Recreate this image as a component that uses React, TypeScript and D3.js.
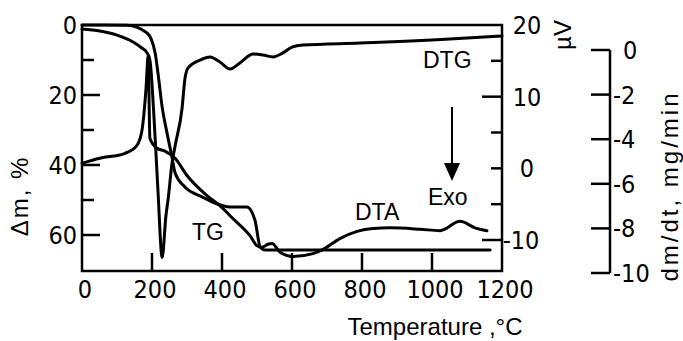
import * as d3 from 'd3';
import { useEffect, useRef } from 'react';

// axis ticks
const tempTicks = [0, 200, 400, 600, 800, 1000, 1200];
const massTicks = [0, 20, 40, 60];
const massMinorTicks = [10, 30, 50];
const uvTicks = [20, 10, 0, -10];
const uvLongTicks = [10, -10];
const uvShortTicks = [15, 5, 0, -5];
const rateTicks = [0, -2, -4, -6, -8, -10];

// TG: mass loss, %
const tgTemp = [0, 60, 129, 186, 209, 217, 229, 243, 257, 266, 294, 343, 380, 423, 471, 494, 509, 523, 700, 900, 1166];
const tgMass = [0, 0, 0.1, 2.3, 8, 13.7, 23.4, 30.9, 37.7, 42.3, 46.3, 49.1, 50.9, 52, 52, 55.7, 63.4, 64.3, 64.3, 64.3, 64.3];

// DTA: µV
const dtaTemp = [0, 51, 123, 157, 171, 183, 189, 194, 214, 237, 266, 300, 357, 394, 431, 480, 500, 514, 531, 543, 566, 603, 660, 689, 737, 786, 831, 880, 966, 1023, 1080, 1123, 1157];
const dtaUV = [0.7, 1.4, 2.1, 3.2, 5.2, 11.2, 15.7, 4.2, 2.8, 2.4, 1.4, -1.0, -3.8, -5.2, -7.0, -9.4, -10.8, -11.0, -10.6, -10.5, -11.7, -12.3, -11.9, -11.3, -9.8, -8.8, -8.4, -8.3, -8.5, -8.7, -7.4, -8.3, -8.7];

// DTG: dm/dt, mg/min
const dtgTemp = [0, 51, 100, 146, 171, 186, 194, 206, 217, 229, 240, 246, 257, 266, 286, 294, 303, 337, 366, 394, 423, 451, 489, 517, 546, 574, 600, 631, 794, 1051, 1200];
const dtgRate = [0.94, 0.85, 0.67, 0.36, 0.09, -0.13, -0.45, -3.1, -6.3, -9.3, -7.4, -6.7, -5.1, -4.3, -2.6, -1.3, -0.8, -0.45, -0.31, -0.54, -0.85, -0.58, -0.18, -0.22, -0.31, -0.13, 0.13, 0.22, 0.31, 0.49, 0.63];

export default function App() {
  const ref = useRef<SVGSVGElement | null>(null);

  useEffect(() => {
    const svg = d3.select(ref.current);
    svg.selectAll('*').remove();
    const left = 82;
    const right = 502;
    const top = 25;
    const bottom = 271;
    const rateAxisX = 610;
    const numFont = "'Liberation Sans Narrow', 'DejaVu Sans Condensed', sans-serif";
    const textFont = "'Liberation Sans', Arial, sans-serif";

    const x = d3.scaleLinear().domain([0, 1200]).range([left, right]);
    const yMass = d3.scaleLinear().domain([0, 70]).range([top, top + 245]);
    const yUV = d3.scaleLinear().domain([-10, 20]).range([240, top]);
    const yRate = d3.scaleLinear().domain([-10, 0]).range([273, 50]);

    svg.append('rect').attr('width', 683).attr('height', 341).attr('fill', '#fff');

    // frame
    svg
      .append('rect')
      .attr('x', left)
      .attr('y', top)
      .attr('width', right - left)
      .attr('height', bottom - top)
      .attr('fill', 'none')
      .attr('stroke', '#000')
      .attr('stroke-width', 2.5);

    // bottom ticks + labels
    tempTicks.slice(1, -1).forEach((t) => {
      svg.append('line').attr('x1', x(t)).attr('x2', x(t)).attr('y1', bottom).attr('y2', bottom - 18).attr('stroke', '#000').attr('stroke-width', 2.5);
    });
    tempTicks.forEach((t) => {
      svg
        .append('text')
        .attr('x', x(t) + 3)
        .attr('y', 298)
        .attr('text-anchor', 'middle')
        .attr('font-family', numFont)
        .attr('font-size', 25)
        .text(t);
    });

    // left ticks
    massTicks.slice(1).forEach((m) => {
      svg.append('line').attr('x1', left).attr('x2', left + 18).attr('y1', yMass(m)).attr('y2', yMass(m)).attr('stroke', '#000').attr('stroke-width', 2.5);
    });
    massMinorTicks.forEach((m) => {
      svg.append('line').attr('x1', left).attr('x2', left + 12).attr('y1', yMass(m)).attr('y2', yMass(m)).attr('stroke', '#000').attr('stroke-width', 2.5);
    });
    massTicks.forEach((m) => {
      svg
        .append('text')
        .attr('x', 77)
        .attr('y', yMass(m))
        .attr('dy', '0.36em')
        .attr('text-anchor', 'end')
        .attr('font-family', numFont)
        .attr('font-size', 25)
        .text(m);
    });

    // right (µV) ticks
    uvLongTicks.forEach((v) => {
      svg.append('line').attr('x1', right - 20).attr('x2', right).attr('y1', yUV(v)).attr('y2', yUV(v)).attr('stroke', '#000').attr('stroke-width', 2.5);
    });
    uvShortTicks.forEach((v) => {
      svg.append('line').attr('x1', right - 11).attr('x2', right).attr('y1', yUV(v)).attr('y2', yUV(v)).attr('stroke', '#000').attr('stroke-width', 2.5);
    });
    uvTicks.forEach((v) => {
      svg
        .append('text')
        .attr('x', right + (v < 0 ? 19 : 25))
        .attr('y', yUV(v))
        .attr('dy', '0.36em')
        .attr('text-anchor', 'middle')
        .attr('font-family', numFont)
        .attr('font-size', 25)
        .text(v < 0 ? `-${Math.abs(v)}` : v);
    });

    // dm/dt axis
    svg.append('line').attr('x1', rateAxisX).attr('x2', rateAxisX).attr('y1', yRate(0)).attr('y2', yRate(-10)).attr('stroke', '#000').attr('stroke-width', 2.5);
    rateTicks.forEach((v) => {
      svg.append('line').attr('x1', rateAxisX - 19).attr('x2', rateAxisX).attr('y1', yRate(v)).attr('y2', yRate(v)).attr('stroke', '#000').attr('stroke-width', 2.5);
      svg
        .append('text')
        .attr('x', v < 0 ? 613 : 623)
        .attr('y', yRate(v))
        .attr('dy', '0.36em')
        .attr('font-family', numFont)
        .attr('font-size', 25)
        .text(v < 0 ? `-${Math.abs(v)}` : v);
    });

    // curves
    const drawCurve = (temps: number[], vals: number[], y: d3.ScaleLinear<number, number>) => {
      const pts: [number, number][] = temps.map((t, i) => [x(t), y(vals[i])]);
      const line = d3.line<[number, number]>().x((d) => d[0]).y((d) => d[1]).curve(d3.curveMonotoneX);
      svg
        .append('path')
        .attr('d', line(pts) ?? '')
        .attr('fill', 'none')
        .attr('stroke', '#000')
        .attr('stroke-width', 3)
        .attr('stroke-linejoin', 'round')
        .attr('stroke-linecap', 'round');
    };
    drawCurve(tgTemp, tgMass, yMass);
    drawCurve(dtaTemp, dtaUV, yUV);
    drawCurve(dtgTemp, dtgRate, yRate);

    // curve labels
    const label = (text: string, lx: number, ly: number) =>
      svg.append('text').attr('x', lx).attr('y', ly).attr('font-family', textFont).attr('font-size', 23).text(text);
    label('DTG', 423, 68);
    label('DTA', 355, 220);
    label('TG', 192, 240);
    label('Exo', 428, 205);

    // exo arrow
    svg.append('line').attr('x1', 452).attr('x2', 452).attr('y1', 107).attr('y2', 166).attr('stroke', '#000').attr('stroke-width', 2);
    svg.append('path').attr('d', 'M444,163 L460,163 L452,181 Z').attr('fill', '#000');

    // axis titles
    svg
      .append('text')
      .attr('transform', 'translate(28,196) rotate(-90)')
      .attr('text-anchor', 'middle')
      .attr('font-family', textFont)
      .attr('font-size', 24)
      .attr('letter-spacing', 2)
      .text('Δm, %');
    svg
      .append('text')
      .attr('transform', 'translate(571,35) rotate(-90)')
      .attr('text-anchor', 'middle')
      .attr('font-family', textFont)
      .attr('font-size', 24)
      .text('µV');
    svg
      .append('text')
      .attr('transform', 'translate(678,186) rotate(-90)')
      .attr('text-anchor', 'middle')
      .attr('font-family', textFont)
      .attr('font-size', 24)
      .attr('letter-spacing', 3)
      .text('dm/dt, mg/min');
    svg
      .append('text')
      .attr('x', 435)
      .attr('y', 335)
      .attr('text-anchor', 'middle')
      .attr('font-family', textFont)
      .attr('font-size', 24)
      .text('Temperature ,°C');
  }, []);

  return <svg ref={ref} width={683} height={341} style={{ position: 'absolute', left: 0, top: 0 }} role="img" aria-label="TG, DTA and DTG curves" />;
}
